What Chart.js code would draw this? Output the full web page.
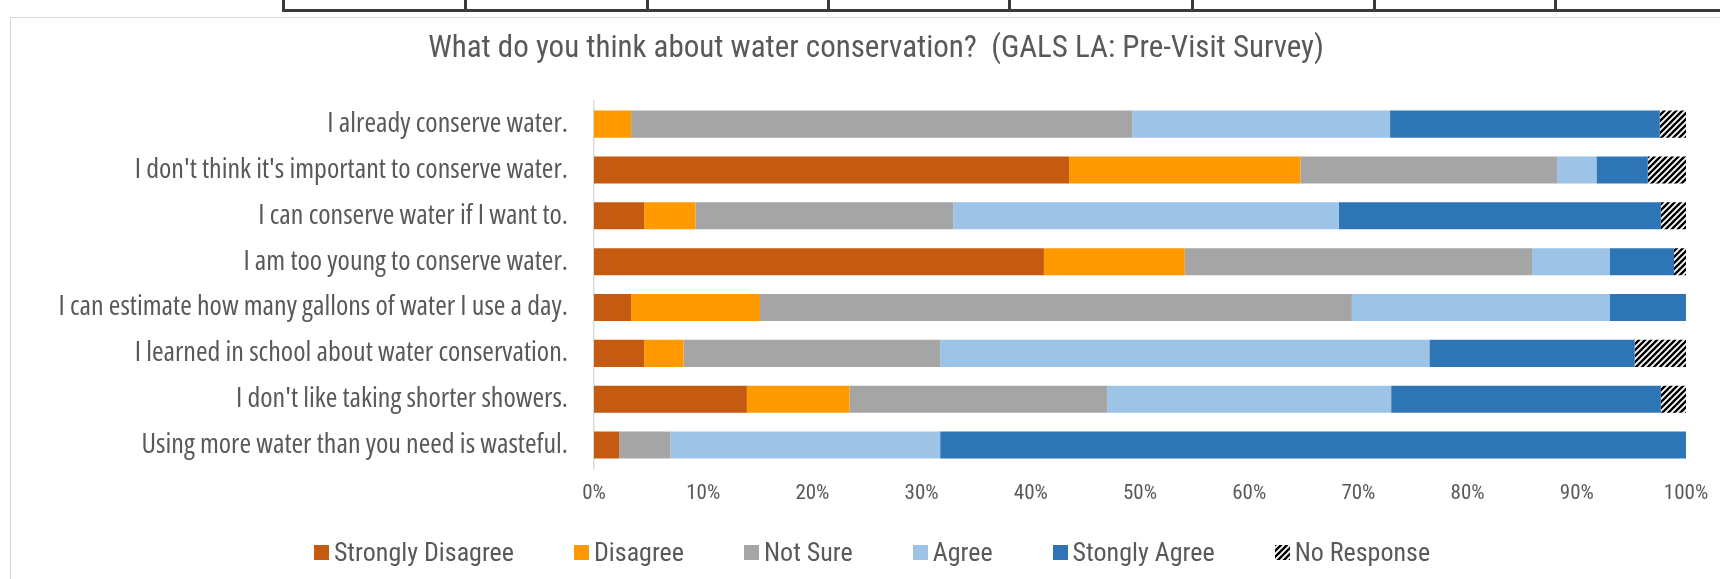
<!DOCTYPE html>
<html>
<head>
<meta charset="utf-8">
<script src="https://cdn.jsdelivr.net/npm/chart.js@4/dist/chart.umd.min.js"></script>
<style>
  html, body { margin: 0; padding: 0; background: #fff; overflow: hidden; }
  body { width: 1720px; height: 579px; position: relative; font-family: 'Open Sans', sans-serif; }
  .grid-strip { position: absolute; left: 282px; top: 0; width: 1500px; height: 9px; border-bottom: 3px solid #3a3a3a; }
  .grid-strip span { position: absolute; top: 0; width: 3px; height: 12px; background: #3a3a3a; }
  .panel { position: absolute; left: 10px; top: 17px; width: 1760px; height: 600px; border-left: 1px solid #d9d9d9; border-top: 1px solid #d9d9d9; }
  #chart { position: absolute; left: 11px; top: 18px; }
  #legend { position: absolute; left: 0; width: 1744px; top: 535px; display: flex; justify-content: center; gap: 60px;
            font-family: 'Roboto Condensed', sans-serif; font-size: 26px; color: #595959; line-height: 34px; }
  #legend .item { display: flex; align-items: center; white-space: nowrap; }
  #legend .box { width: 15px; height: 15px; margin-right: 5px; }
</style>
</head>
<body>
<div class="grid-strip" id="strip"></div>
<div class="panel"></div>
<canvas id="chart" width="1730" height="561"></canvas>
<div id="legend"></div>
<script>
// survey statements, top to bottom
var statements = [
    "I already conserve water.",
    "I don't think it's important to conserve water.",
    "I can conserve water if I want to.",
    "I am too young to conserve water.",
    "I can estimate how many gallons of water I use a day.",
    "I learned in school about water conservation.",
    "I don't like taking shorter showers.",
    "Using more water than you need is wasteful."
];

// percent of respondents per answer
var strongDisagree = [0, 43.5, 4.6, 41.2, 3.4, 4.6, 14.0, 2.3];
var disagree       = [3.4, 21.2, 4.7, 12.9, 11.8, 3.6, 9.4, 0];
var notSure        = [45.9, 23.5, 23.6, 31.8, 54.2, 23.5, 23.6, 4.7];
var agree          = [23.6, 3.6, 35.3, 7.1, 23.6, 44.8, 26.0, 24.7];
var stronglyAgree  = [24.7, 4.7, 29.5, 5.9, 7.0, 18.8, 24.7, 68.3];
var noResponse     = [2.4, 3.5, 2.3, 1.1, 0, 4.7, 2.3, 0];

var answerNames = ["Strongly Disagree", "Disagree", "Not Sure", "Agree", "Stongly Agree", "No Response"];
var xTicks = [0, 10, 20, 30, 40, 50, 60, 70, 80, 90, 100];

// thin table lines above the chart
var strip = document.getElementById("strip");
[0, 182, 364, 545, 726, 909, 1091, 1272, 1454].forEach(function (x) {
    var s = document.createElement("span");
    s.style.left = x + "px";
    strip.appendChild(s);
});

var ctx = document.getElementById("chart").getContext("2d");

// black diagonal hatch for "No Response"
function hatchTile() {
    var c = document.createElement("canvas");
    c.width = 6; c.height = 6;
    var g = c.getContext("2d");
    g.fillStyle = "#ffffff";
    g.fillRect(0, 0, 6, 6);
    g.strokeStyle = "#000000";
    g.lineWidth = 2.4;
    g.beginPath();
    g.moveTo(-1, 7); g.lineTo(7, -1);
    g.moveTo(-4, 4); g.lineTo(4, -4);
    g.moveTo(2, 10); g.lineTo(10, 2);
    g.stroke();
    return c;
}
var hatch = ctx.createPattern(hatchTile(), "repeat");

var family = "'Open Sans', sans-serif";
var titleFamily = "'Roboto Condensed', sans-serif";
var narrow = "normal condensed";      // Open Sans condensed face
var textColor = "#595959";

var colors = ["#C55A11", "#FF9900", "#A5A5A5", "#9DC3E6", "#2E75B6", hatch];
var series = [strongDisagree, disagree, notSure, agree, stronglyAgree, noResponse];

var datasets = series.map(function (vals, i) {
    return {
        label: answerNames[i],
        data: vals,
        backgroundColor: colors[i],
        borderWidth: 0,
        barPercentage: 0.59,
        categoryPercentage: 1
    };
});

var myChart = new Chart(ctx, {
    type: "bar",
    data: { labels: statements, datasets: datasets },
    options: {
        indexAxis: "y",
        responsive: false,
        animation: false,
        layout: { padding: 0 },
        scales: {
            x: {
                stacked: true,
                min: 0,
                max: 100,
                afterBuildTicks: function (scale) {
                    scale.ticks = xTicks.map(function (v) { return { value: v }; });
                },
                afterFit: function (scale) {
                    scale.height = 111;
                    scale.paddingRight = 55;
                },
                grid: { display: false, drawTicks: false },
                border: { display: false },
                ticks: {
                    padding: 13,
                    color: textColor,
                    font: { family: titleFamily, size: 21 },
                    callback: function (v) { return v + "%"; }
                }
            },
            y: {
                stacked: true,
                afterFit: function (scale) { scale.width = 583; },
                grid: { display: false, drawTicks: false },
                border: { display: true, color: "#d9d9d9", width: 1.5 },
                ticks: {
                    padding: 26,
                    color: textColor,
                    font: { family: family, size: 28, weight: narrow }
                }
            }
        },
        plugins: {
            title: {
                display: true,
                text: "What do you think about water conservation?  (GALS LA: Pre-Visit Survey)",
                color: textColor,
                font: { family: titleFamily, size: 31, weight: "normal" },
                padding: { top: 13, bottom: 33 }
            },
            legend: { display: false },
            tooltip: { enabled: false }
        }
    }
});

// legend row under the chart
var legend = document.getElementById("legend");
answerNames.forEach(function (name, i) {
    var item = document.createElement("div");
    item.className = "item";
    var box;
    if (i === 5) {
        box = document.createElement("canvas");
        box.width = 15; box.height = 15;
        var bctx = box.getContext("2d");
        bctx.fillStyle = bctx.createPattern(hatchTile(), "repeat");
        bctx.fillRect(0, 0, 15, 15);
    } else {
        box = document.createElement("div");
        box.style.background = colors[i];
    }
    box.className = "box";
    item.appendChild(box);
    item.appendChild(document.createTextNode(name));
    legend.appendChild(item);
});
</script>
</body>
</html>
